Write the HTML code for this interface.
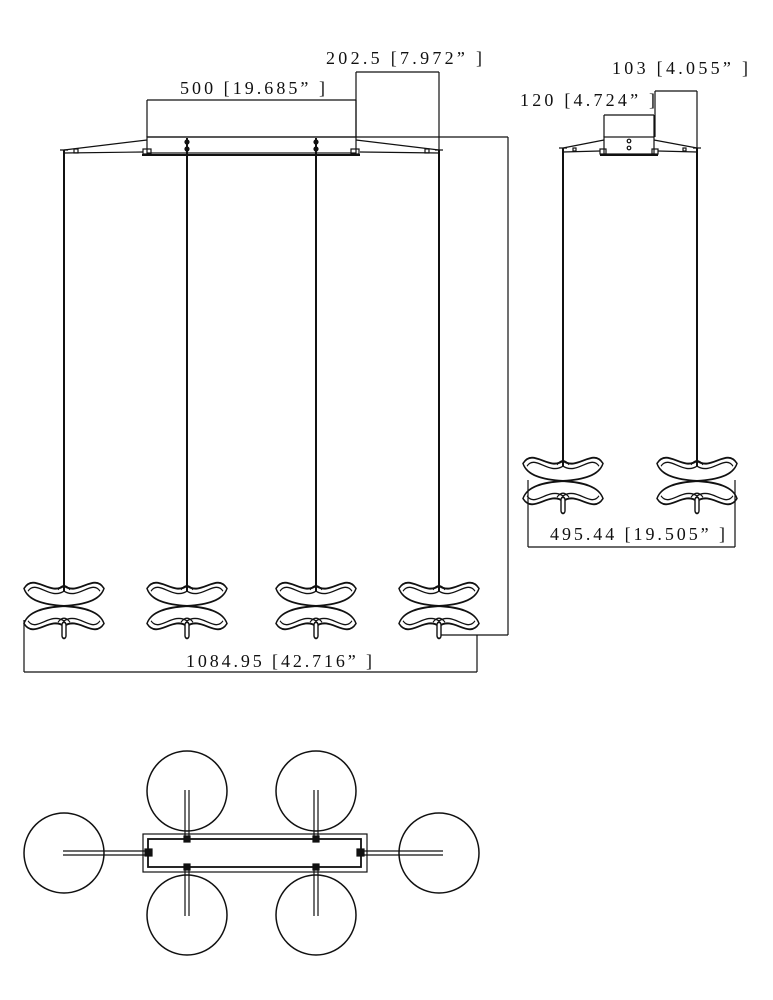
<!DOCTYPE html>
<html><head><meta charset="utf-8"><style>
html,body{margin:0;padding:0;background:#fff;}
svg{display:block;}
text{font-family:"Liberation Serif","Noto Serif CJK SC",serif;font-size:18px;fill:#111;}
</style></head><body>
<svg width="773" height="1000" viewBox="0 0 773 1000" xmlns="http://www.w3.org/2000/svg">
<defs>
<g id="sh" fill="none" stroke="#111" stroke-width="1.4">
  <path d="M-40,-13 C-30,-25 -14,-7 0,-15 C14,-7 30,-25 40,-13 C36,-4 20,-1 0,0 C-20,-1 -36,-4 -40,-13 Z"/>
  <path d="M-36,-11 C-28,-20 -14,-4 0,-11 C14,-4 28,-20 36,-11" stroke-width="1"/>
  <path d="M-40,13 C-30,25 -14,7 0,15 C14,7 30,25 40,13 C36,4 20,1 0,0 C-20,1 -36,4 -40,13 Z"/>
  <path d="M-36,11 C-28,20 -14,4 0,11 C14,4 28,20 36,11" stroke-width="1"/>
  <path d="M-6,-12 Q0,-18 6,-12" stroke-width="1"/>
  <path d="M-6,12 Q0,6 6,12" stroke-width="1"/>
  <rect x="-2" y="12" width="4" height="12" rx="2" fill="#fff"/>
</g>
<g id="top" fill="none" stroke="#111">
  <circle r="40" stroke-width="1.5"/>
</g>
</defs>
<g stroke="#111" fill="none" stroke-width="1.2">
<line x1="147" y1="137" x2="508" y2="137"/>
<rect x="147" y="137" width="209" height="16"/>
<line x1="142" y1="155" x2="360" y2="155" stroke-width="2"/>
<rect x="143" y="149" width="8" height="5"/><rect x="351" y="149" width="8" height="5"/>
<path d="M64,150 L147,140 M64,153 L143,152 M439,150 L356,140 M439,153 L360,152"/>
<path d="M60,150 L68,150 M435,150 L443,150"/>
<rect x="74" y="149" width="4" height="4"/><rect x="425" y="149" width="4" height="4"/>
<g stroke-width="2">
<line x1="64" y1="150" x2="64" y2="591"/>
<line x1="187" y1="138" x2="187" y2="591"/>
<line x1="316" y1="138" x2="316" y2="591"/>
<line x1="439" y1="150" x2="439" y2="591"/>
</g>
<g fill="#111"><circle cx="187" cy="142" r="2"/><circle cx="187" cy="149" r="2"/><circle cx="316" cy="142" r="2"/><circle cx="316" cy="149" r="2"/></g>
<path d="M147,100 L356,100 M147,100 L147,137 M356,100 L356,137"/>
<path d="M356,72 L439,72 M356,72 L356,137 M439,72 L439,150"/>
<path d="M508,137 L508,635 M441,635 L508,635"/>
<path d="M24,672 L477,672 M24,620 L24,672 M477,635 L477,672"/>
<rect x="604" y="137" width="50" height="17"/>
<line x1="600" y1="155" x2="658" y2="155" stroke-width="2"/>
<circle cx="629" cy="141" r="1.8"/><circle cx="629" cy="148" r="1.8"/>
<rect x="600" y="149" width="6" height="5"/><rect x="652" y="149" width="6" height="5"/>
<path d="M563,148 L604,140 M563,152 L600,151 M697,148 L654,140 M697,152 L658,151 M559,148 L567,148 M693,148 L701,148"/>
<rect x="573" y="148" width="3" height="3"/><rect x="683" y="148" width="3" height="3"/>
<line x1="563" y1="148" x2="563" y2="466" stroke-width="2"/>
<line x1="697" y1="148" x2="697" y2="466" stroke-width="2"/>
<path d="M604,115 L654,115 M604,115 L604,137 M654,115 L654,137"/>
<path d="M655,91 L697,91 M655,91 L655,137 M697,91 L697,150"/>
<path d="M528,547 L735,547 M528,480 L528,547 M735,480 L735,547"/>
<rect x="143" y="834" width="224" height="38"/>
<rect x="148" y="839" width="213" height="28" stroke-width="1.8"/>
<use href="#top" x="64" y="853"/><use href="#top" x="439" y="853"/>
<use href="#top" x="187" y="791"/><use href="#top" x="316" y="791"/>
<use href="#top" x="187" y="915"/><use href="#top" x="316" y="915"/>
<path d="M63,851 L148,851 M63,855 L148,855 M360,851 L443,851 M360,855 L443,855"/>
<path d="M185,790 L185,839 M189,790 L189,839 M314,790 L314,839 M318,790 L318,839"/>
<path d="M185,867 L185,916 M189,867 L189,916 M314,867 L314,916 M318,867 L318,916"/>
<g fill="#111"><rect x="145" y="849" width="7" height="7"/><rect x="357" y="849" width="7" height="7"/>
<rect x="184" y="836" width="6" height="6"/><rect x="313" y="836" width="6" height="6"/>
<rect x="184" y="864" width="6" height="6"/><rect x="313" y="864" width="6" height="6"/></g>
</g>
<use href="#sh" transform="translate(64,606) scale(1,1.35)"/>
<use href="#sh" transform="translate(187,606) scale(1,1.35)"/>
<use href="#sh" transform="translate(316,606) scale(1,1.35)"/>
<use href="#sh" transform="translate(439,606) scale(1,1.35)"/>
<use href="#sh" transform="translate(563,481) scale(1,1.35)"/>
<use href="#sh" transform="translate(697,481) scale(1,1.35)"/>
<text x="180" y="94" textLength="145" lengthAdjust="spacing">500 [19.685” ]</text>
<text x="326" y="64" textLength="156" lengthAdjust="spacing">202.5 [7.972” ]</text>
<text x="186" y="667" textLength="186" lengthAdjust="spacing">1084.95 [42.716” ]</text>
<text x="612" y="74" textLength="136" lengthAdjust="spacing">103 [4.055” ]</text>
<text x="520" y="106" textLength="135" lengthAdjust="spacing">120 [4.724” ]</text>
<text x="550" y="540" textLength="175" lengthAdjust="spacing">495.44 [19.505” ]</text>
</svg>
</body></html>
